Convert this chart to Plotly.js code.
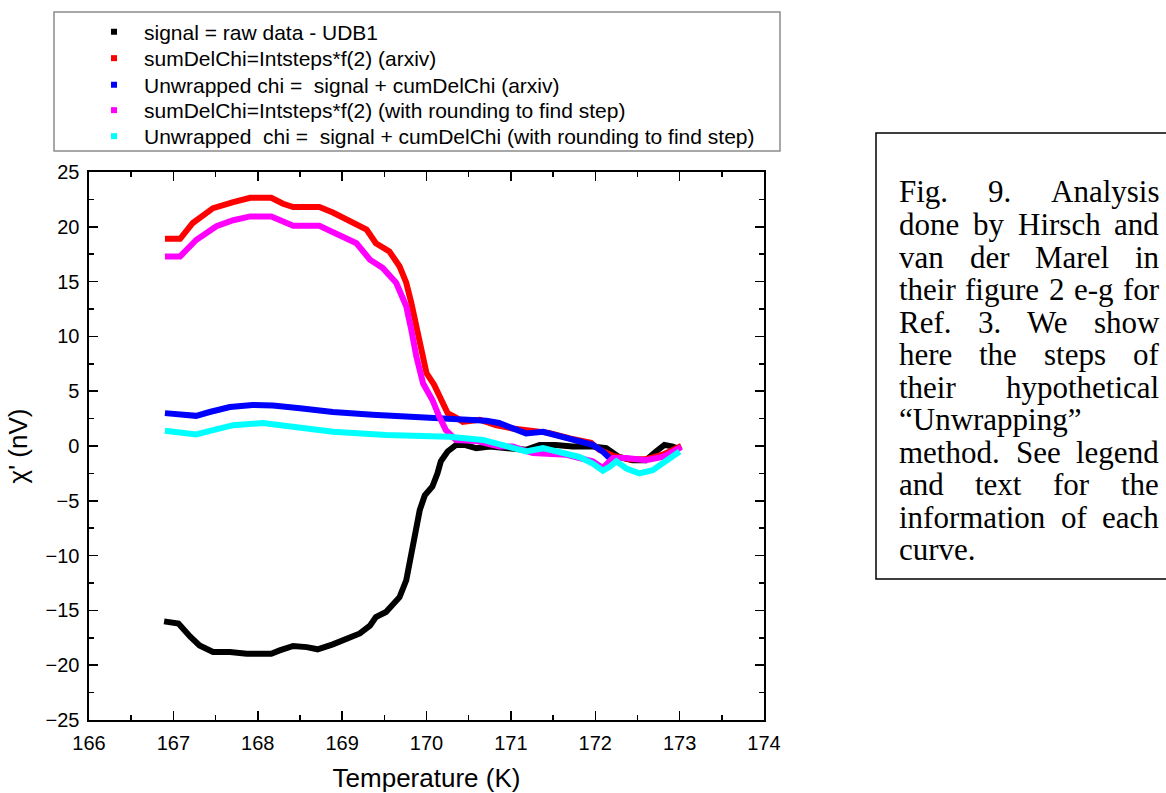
<!DOCTYPE html>
<html>
<head>
<meta charset="utf-8">
<script src="https://cdn.plot.ly/plotly-3.0.1.min.js"></script>
<style>html,body{margin:0;padding:0;background:#fff;}#plot{width:1166px;height:793px;}</style>
</head>
<body>
<div id="plot"></div>
<script>
// ---------- data ----------
const seriesNames = [
  "signal = raw data - UDB1",
  "sumDelChi=Intsteps*f(2) (arxiv)",
  "Unwrapped chi =  signal + cumDelChi (arxiv)",
  "sumDelChi=Intsteps*f(2) (with rounding to find step)",
  "Unwrapped  chi =  signal + cumDelChi (with rounding to find step)"
];
const seriesColors = ["#000000", "#ff0000", "#0000ff", "#ff00ff", "#00ffff"];

const signalT = [166.89,167.06,167.20,167.31,167.47,167.67,167.87,168.16,168.26,168.42,168.58,168.71,168.89,169.05,169.21,169.33,169.40,169.52,169.62,169.68,169.76,169.80,169.84,169.88,169.92,169.98,170.07,170.13,170.17,170.25,170.35,170.45,170.59,170.75,170.98,171.18,171.34,171.53,171.73,171.97,172.13,172.28,172.44,172.60,172.72,172.82,172.92,172.97];
const signalChi = [-16.0,-16.2,-17.4,-18.2,-18.8,-18.8,-18.95,-18.95,-18.65,-18.25,-18.35,-18.55,-18.1,-17.6,-17.1,-16.4,-15.6,-15.15,-14.4,-13.8,-12.25,-10.7,-9.2,-7.7,-5.85,-4.5,-3.7,-2.5,-1.4,-0.5,0.1,0.1,-0.2,-0.05,-0.2,-0.35,0.1,0.1,-0.05,-0.05,-0.2,-1.0,-1.3,-1.3,-0.5,0.1,-0.05,-0.2];

const sumArxivT = [166.90,167.08,167.23,167.47,167.71,167.91,168.16,168.30,168.42,168.73,168.89,169.13,169.29,169.40,169.56,169.68,169.76,169.82,169.88,169.94,170.00,170.09,170.17,170.25,170.35,170.43,170.63,170.82,171.02,171.22,171.45,171.70,171.95,172.05,172.21,172.40,172.60,172.80,173.02];
const sumArxivChi = [18.9,18.9,20.35,21.7,22.25,22.65,22.65,22.1,21.8,21.8,21.3,20.35,19.75,18.5,17.75,16.4,14.9,13.05,10.9,8.5,6.65,5.6,4.2,3.0,2.6,2.2,2.4,1.9,1.6,1.45,1.2,0.7,0.3,-0.35,-0.9,-1.2,-1.2,-0.8,0.0];

const unwrapArxivT = [166.90,167.10,167.27,167.43,167.67,167.94,168.18,168.50,168.89,169.36,169.92,170.27,170.71,170.86,171.02,171.18,171.38,171.53,171.77,171.97,172.09,172.17];
const unwrapArxivChi = [3.0,2.8,2.75,3.1,3.55,3.75,3.7,3.45,3.1,2.85,2.65,2.5,2.3,2.1,1.6,1.15,1.3,1.0,0.55,0.1,-0.5,-1.1];

const sumRoundT = [166.90,167.08,167.27,167.51,167.71,167.91,168.16,168.34,168.42,168.73,168.97,169.17,169.33,169.48,169.64,169.76,169.82,169.88,169.96,170.07,170.15,170.23,170.35,170.60,170.86,171.02,171.26,171.66,171.97,172.09,172.21,172.37,172.60,172.80,173.02];
const sumRoundChi = [17.3,17.3,18.8,20.05,20.6,20.95,20.95,20.35,20.1,20.1,19.3,18.5,17.0,16.25,14.9,12.75,10.6,8.15,5.7,4.2,2.7,1.45,0.55,0.45,-0.05,-0.05,-0.65,-0.8,-1.4,-2.0,-1.1,-1.1,-1.3,-1.0,-0.1];

const unwrapRoundT = [166.90,167.10,167.27,167.47,167.71,168.06,168.42,168.89,169.52,170.27,170.67,170.98,171.18,171.38,171.57,171.81,171.97,172.09,172.17,172.25,172.37,172.52,172.68,172.84,173.00];
const unwrapRoundChi = [1.4,1.15,1.05,1.45,1.9,2.1,1.75,1.3,1.0,0.85,0.55,-0.05,-0.5,-0.2,-0.5,-1.0,-1.6,-2.25,-1.9,-1.4,-2.05,-2.5,-2.2,-1.3,-0.5];

const xTickRange = [166, 174];
const yTickRange = [-25, 25];
const xTitle = "Temperature (K)";
const yTitle = "\u03c7' (nV)";

const captionLines = [
  "Fig. 9. Analysis",
  "done by Hirsch and",
  "van der Marel in",
  "their figure 2 e-g for",
  "Ref. 3. We show",
  "here the steps of",
  "their hypothetical",
  "\u201cUnwrapping\u201d",
  "method. See legend",
  "and text for the",
  "information of each",
  "curve."
];
const captionJustify = [true,true,true,true,true,true,true,false,true,true,true,false];

// ---------- layout helpers ----------
const W = 1166, H = 793;
const PL = 89, PR = 764, PT = 172, PB = 720;
const px2x = p => (p - PL) / (PR - PL);
const py2y = p => (PB - p) / (PB - PT);

const xs = [signalT, sumArxivT, unwrapArxivT, sumRoundT, unwrapRoundT];
const ys = [signalChi, sumArxivChi, unwrapArxivChi, sumRoundChi, unwrapRoundChi];
const legendIds = ["legend", "legend2", "legend3", "legend4", "legend5"];
const legendCentersPx = [32, 58.5, 85, 110.5, 136.5];

const traces = [];
for (let i = 0; i < 5; i++) {
  traces.push({
    x: xs[i], y: ys[i], type: "scatter", mode: "lines",
    line: {color: seriesColors[i], width: 6, shape: "linear"},
    showlegend: false, hoverinfo: "skip"
  });
}
// legend entries (small square symbols as in the reference), one legend box each for tight spacing
for (let i = 0; i < 5; i++) {
  traces.push({
    x: [null], y: [null], type: "scatter", mode: "markers", name: seriesNames[i],
    marker: {symbol: "square", size: 6, color: seriesColors[i]},
    showlegend: true, legend: legendIds[i]
  });
}

// caption (justified with measured word widths)
const capFont = "Liberation Serif, Times New Roman, serif";
const capSize = 31;
const capLeft = 897, capRight = 1157;
const capTop = 192, capStep = 32.5;
const cnv = document.createElement("canvas");
const ctx = cnv.getContext("2d");
ctx.font = capSize + "px 'Liberation Serif'";
const annotations = [];
captionLines.forEach((line, li) => {
  const yc = capTop + li * capStep;
  const words = line.split(" ");
  if (!captionJustify[li] || words.length < 2) {
    annotations.push({text: line, xref: "paper", yref: "paper", x: px2x(capLeft), y: py2y(yc),
      xanchor: "left", yanchor: "middle", showarrow: false,
      font: {family: capFont, size: capSize, color: "#000"}});
    return;
  }
  const widths = words.map(w => ctx.measureText(w).width);
  const total = widths.reduce((a, b) => a + b, 0);
  const gap = (capRight - capLeft - total) / (words.length - 1);
  let xcur = capLeft;
  words.forEach((w, wi) => {
    annotations.push({text: w, xref: "paper", yref: "paper", x: px2x(xcur), y: py2y(yc),
      xanchor: "left", yanchor: "middle", showarrow: false,
      font: {family: capFont, size: capSize, color: "#000"}});
    xcur += widths[wi] + gap;
  });
});

const shapes = [
  // legend frame
  {type: "rect", xref: "paper", yref: "paper", x0: px2x(54), x1: px2x(780), y0: py2y(151), y1: py2y(12),
   line: {color: "#8c8c8c", width: 1.5}, fillcolor: "rgba(0,0,0,0)", layer: "below"},
  // caption frame
  {type: "rect", xref: "paper", yref: "paper", x0: px2x(876), x1: px2x(1180), y0: py2y(579), y1: py2y(133),
   line: {color: "#000", width: 1.5}, fillcolor: "rgba(0,0,0,0)", layer: "below"}
];

const axisCommon = {
  showgrid: false, zeroline: false, showline: true, linecolor: "#000", linewidth: 1.6,
  ticks: "inside", ticklen: 9, tickwidth: 1.5, tickcolor: "#000", mirror: "allticks",
  tickfont: {family: "Liberation Sans, Arial, sans-serif", size: 20, color: "#000"}
};

const layout = {
  width: W, height: H,
  margin: {l: PL, r: W - PR, t: PT, b: H - PB, pad: 0},
  paper_bgcolor: "#fff", plot_bgcolor: "#fff",
  showlegend: true,
  xaxis: Object.assign({}, axisCommon, {
    range: xTickRange, tickmode: "linear", tick0: 166, dtick: 1, ticklabelstandoff: 4,
    minor: {ticks: "inside", ticklen: 5, tickwidth: 1.5, tickcolor: "#000", dtick: 0.5, tick0: 166},
    title: {text: xTitle, standoff: 20, font: {family: "Liberation Sans, Arial, sans-serif", size: 26, color: "#000"}},
    automargin: false
  }),
  yaxis: Object.assign({}, axisCommon, {
    range: yTickRange, tickmode: "linear", tick0: -25, dtick: 5, ticklabelstandoff: 4,
    minor: {ticks: "inside", ticklen: 5, tickwidth: 1.5, tickcolor: "#000", dtick: 2.5, tick0: -25},
    title: {text: yTitle, standoff: 10, font: {family: "Liberation Sans, Arial, sans-serif", size: 26, color: "#000"}},
    automargin: false
  }),
  annotations: annotations,
  shapes: shapes
};
legendIds.forEach((id, i) => {
  layout[id] = {x: px2x(84), y: py2y(legendCentersPx[i]), xanchor: "left", yanchor: "middle",
    itemwidth: 50, bgcolor: "rgba(0,0,0,0)", borderwidth: 0,
    font: {family: "Liberation Sans, Arial, sans-serif", size: 21, color: "#000"}};
});

Plotly.newPlot("plot", traces, layout, {displayModeBar: false, staticPlot: true});
</script>
</body>
</html>
